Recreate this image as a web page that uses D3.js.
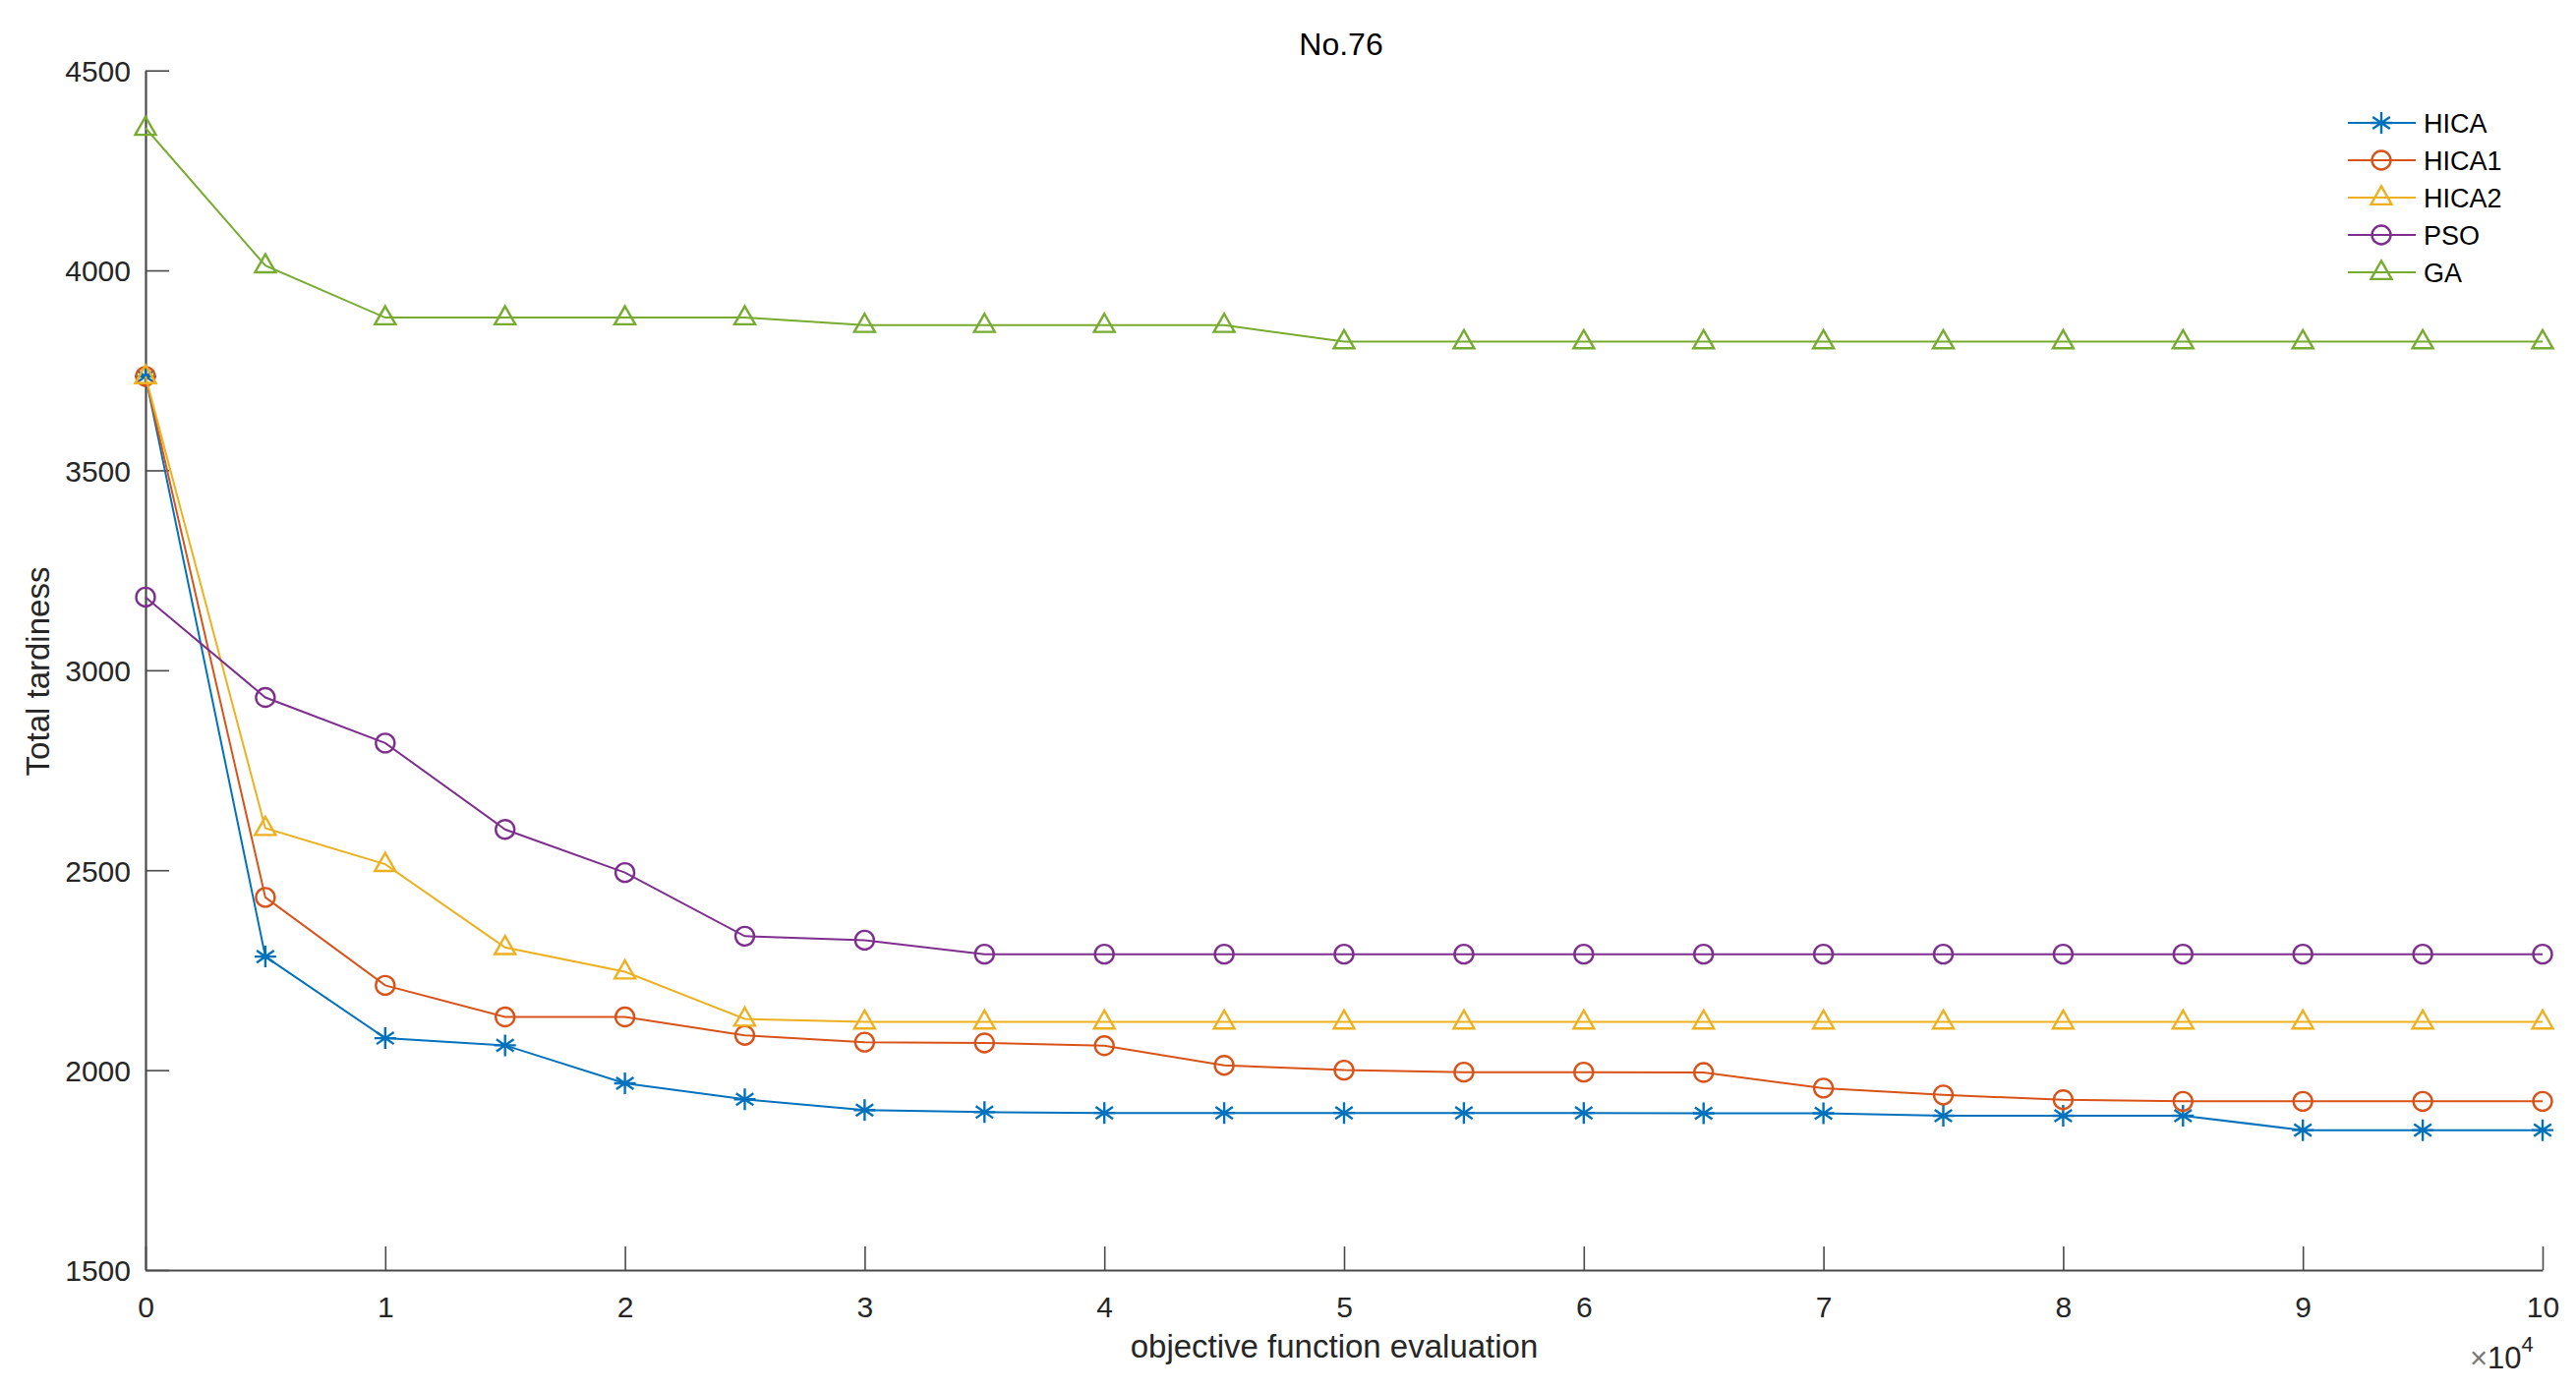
<!DOCTYPE html>
<html>
<head>
<meta charset="utf-8">
<script src="https://cdn.jsdelivr.net/npm/d3@7"></script>
<style>
  body { margin: 0; background: #fff; }
  text { font-family: "Liberation Sans", Arial, sans-serif; }
</style>
</head>
<body>
<svg id="chart"></svg>
<script>
// x values (objective function evaluations)
const evals = [0, 5000, 10000, 15000, 20000, 25000, 30000, 35000, 40000, 45000, 50000,
  55000, 60000, 65000, 70000, 75000, 80000, 85000, 90000, 95000, 100000];

const HICA = [3735, 2284, 2080, 2062, 1967, 1927, 1900, 1895, 1893, 1893, 1893,
  1893, 1893, 1892, 1892, 1886, 1886, 1886, 1850, 1850, 1850];
const HICA1 = [3735, 2432, 2212, 2133, 2133, 2087, 2070, 2068, 2061, 2012, 2000,
  1995, 1995, 1994, 1955, 1938, 1926, 1922, 1922, 1922, 1922];
const HICA2 = [3735, 2605, 2515, 2307, 2246, 2128, 2121, 2121, 2121, 2121, 2121,
  2121, 2121, 2121, 2121, 2121, 2121, 2121, 2121, 2121, 2121];
const PSO = [3183, 2932, 2818, 2602, 2494, 2335, 2325, 2290, 2290, 2290, 2290,
  2290, 2290, 2290, 2290, 2290, 2290, 2290, 2290, 2290, 2290];
const GA = [4356, 4012, 3882, 3882, 3882, 3882, 3863, 3863, 3863, 3863, 3822,
  3822, 3822, 3822, 3822, 3822, 3822, 3822, 3822, 3822, 3822];

const seriesNames = ["HICA", "HICA1", "HICA2", "PSO", "GA"];
const xTicks = [0, 10000, 20000, 30000, 40000, 50000, 60000, 70000, 80000, 90000, 100000];
const yTicks = [1500, 2000, 2500, 3000, 3500, 4000, 4500];

const width = 2620;
const height = 1414;

// MATLAB-like marker shapes
const asterisk = {
  draw(ctx, size) {
    const r = Math.sqrt(size) / 2;
    ctx.moveTo(0, -r); ctx.lineTo(0, r);
    ctx.moveTo(-r, 0); ctx.lineTo(r, 0);
    const a = r * 0.8, b = r * 0.55;
    ctx.moveTo(-a, -b); ctx.lineTo(a, b);
    ctx.moveTo(-a, b); ctx.lineTo(a, -b);
  }
};
const triangle = {
  draw(ctx, size) {
    const r = Math.sqrt(size) / 2;
    ctx.moveTo(0, -r * 1.1);
    ctx.lineTo(r, r * 0.65);
    ctx.lineTo(-r, r * 0.65);
    ctx.closePath();
  }
};
const circle = {
  draw(ctx, size) {
    const r = Math.sqrt(size) / 2;
    ctx.moveTo(r, 0);
    ctx.arc(0, 0, r, 0, 2 * Math.PI);
  }
};

const series = [
  { name: seriesNames[0], values: HICA, color: "#0072BD", shape: asterisk, size: 22 * 22 },
  { name: seriesNames[1], values: HICA1, color: "#D95319", shape: circle, size: 19 * 19 },
  { name: seriesNames[2], values: HICA2, color: "#EDB120", shape: triangle, size: 21 * 21 },
  { name: seriesNames[3], values: PSO, color: "#7E2F8E", shape: circle, size: 19 * 19 },
  { name: seriesNames[4], values: GA, color: "#77AC30", shape: triangle, size: 21 * 21 }
];

const svg = d3.select("#chart")
  .attr("width", width)
  .attr("height", height);

const xScale = d3.scaleLinear()
  .domain([0, 100000])
  .range([148, 2586]);

const yScale = d3.scaleLinear()
  .domain([1500, 4500])
  .range([1292, 71.7]);

const axisColor = "#4a4a4a";
const textColor = "#262626";

// x axis, ticks inward
const xAxis = d3.axisBottom(xScale)
  .tickValues(xTicks)
  .tickSizeInner(-24)
  .tickSizeOuter(0)
  .tickPadding(0)
  .tickFormat((d) => d / 10000);

const gx = svg.append("g")
  .attr("transform", `translate(0, ${yScale(1500)})`)
  .call(xAxis);
gx.select(".domain").attr("stroke", axisColor).attr("stroke-width", 2.2);
gx.selectAll(".tick line").attr("stroke", axisColor).attr("stroke-width", 1.6);
gx.selectAll(".tick text")
  .attr("y", 48)
  .attr("dy", 0)
  .attr("fill", textColor)
  .attr("font-size", "30px");

// y axis, ticks inward
const yAxis = d3.axisLeft(yScale)
  .tickValues(yTicks)
  .tickSizeInner(-24)
  .tickSizeOuter(0)
  .tickPadding(0)
  .tickFormat(d3.format("d"));

const gy = svg.append("g")
  .attr("transform", `translate(${xScale(0)}, 0)`)
  .call(yAxis);
gy.select(".domain").attr("stroke", axisColor).attr("stroke-width", 2.2);
gy.selectAll(".tick line").attr("stroke", axisColor).attr("stroke-width", 1.6);
gy.selectAll(".tick text")
  .attr("x", -15)
  .attr("dy", "0.36em")
  .attr("fill", textColor)
  .attr("font-size", "30px");

svg.selectAll("g").attr("font-family", null);

// lines and markers
const line = d3.line()
  .x((d, i) => xScale(evals[i]))
  .y((d) => yScale(d));

series.forEach((s) => {
  svg.append("path")
    .datum(s.values)
    .attr("fill", "none")
    .attr("stroke", s.color)
    .attr("stroke-width", 2)
    .attr("d", line);

  svg.append("g")
    .selectAll("path")
    .data(s.values)
    .join("path")
    .attr("transform", (d, i) => `translate(${xScale(evals[i])}, ${yScale(d)})`)
    .attr("d", d3.symbol().type(s.shape).size(s.size))
    .attr("fill", "none")
    .attr("stroke", s.color)
    .attr("stroke-width", 2.4);
});

// title and axis labels
svg.append("text")
  .attr("x", 1364)
  .attr("y", 56)
  .attr("text-anchor", "middle")
  .attr("fill", "#000")
  .attr("font-size", "32px")
  .text("No.76");

svg.append("text")
  .attr("x", 1357)
  .attr("y", 1381)
  .attr("text-anchor", "middle")
  .attr("fill", textColor)
  .attr("font-size", "33px")
  .text("objective function evaluation");

svg.append("text")
  .attr("transform", "translate(50, 683) rotate(-90)")
  .attr("text-anchor", "middle")
  .attr("fill", textColor)
  .attr("font-size", "33px")
  .text("Total tardiness");

// exponent label
const expo = svg.append("text")
  .attr("x", 2512)
  .attr("y", 1392)
  .attr("fill", textColor)
  .attr("font-size", "31px");
expo.append("tspan").attr("fill", "#777").text("\u00d7");
expo.append("tspan").text("10");
expo.append("tspan").attr("dy", -17).attr("font-size", "22px").text("4");

// legend
const legend = svg.append("g")
  .attr("transform", "translate(2388, 125)");

const items = legend.selectAll("g")
  .data(series)
  .join("g")
  .attr("transform", (d, i) => `translate(0, ${i * 38})`);

items.append("line")
  .attr("x1", 0)
  .attr("x2", 69)
  .attr("stroke", (d) => d.color)
  .attr("stroke-width", 2);

items.append("path")
  .attr("transform", "translate(34, 0)")
  .attr("d", (d) => d3.symbol().type(d.shape).size(d.size)())
  .attr("fill", "none")
  .attr("stroke", (d) => d.color)
  .attr("stroke-width", 2.4);

items.append("text")
  .attr("x", 77)
  .attr("dy", "0.36em")
  .attr("fill", "#000")
  .attr("font-size", "27px")
  .text((d) => d.name);
</script>
</body>
</html>
